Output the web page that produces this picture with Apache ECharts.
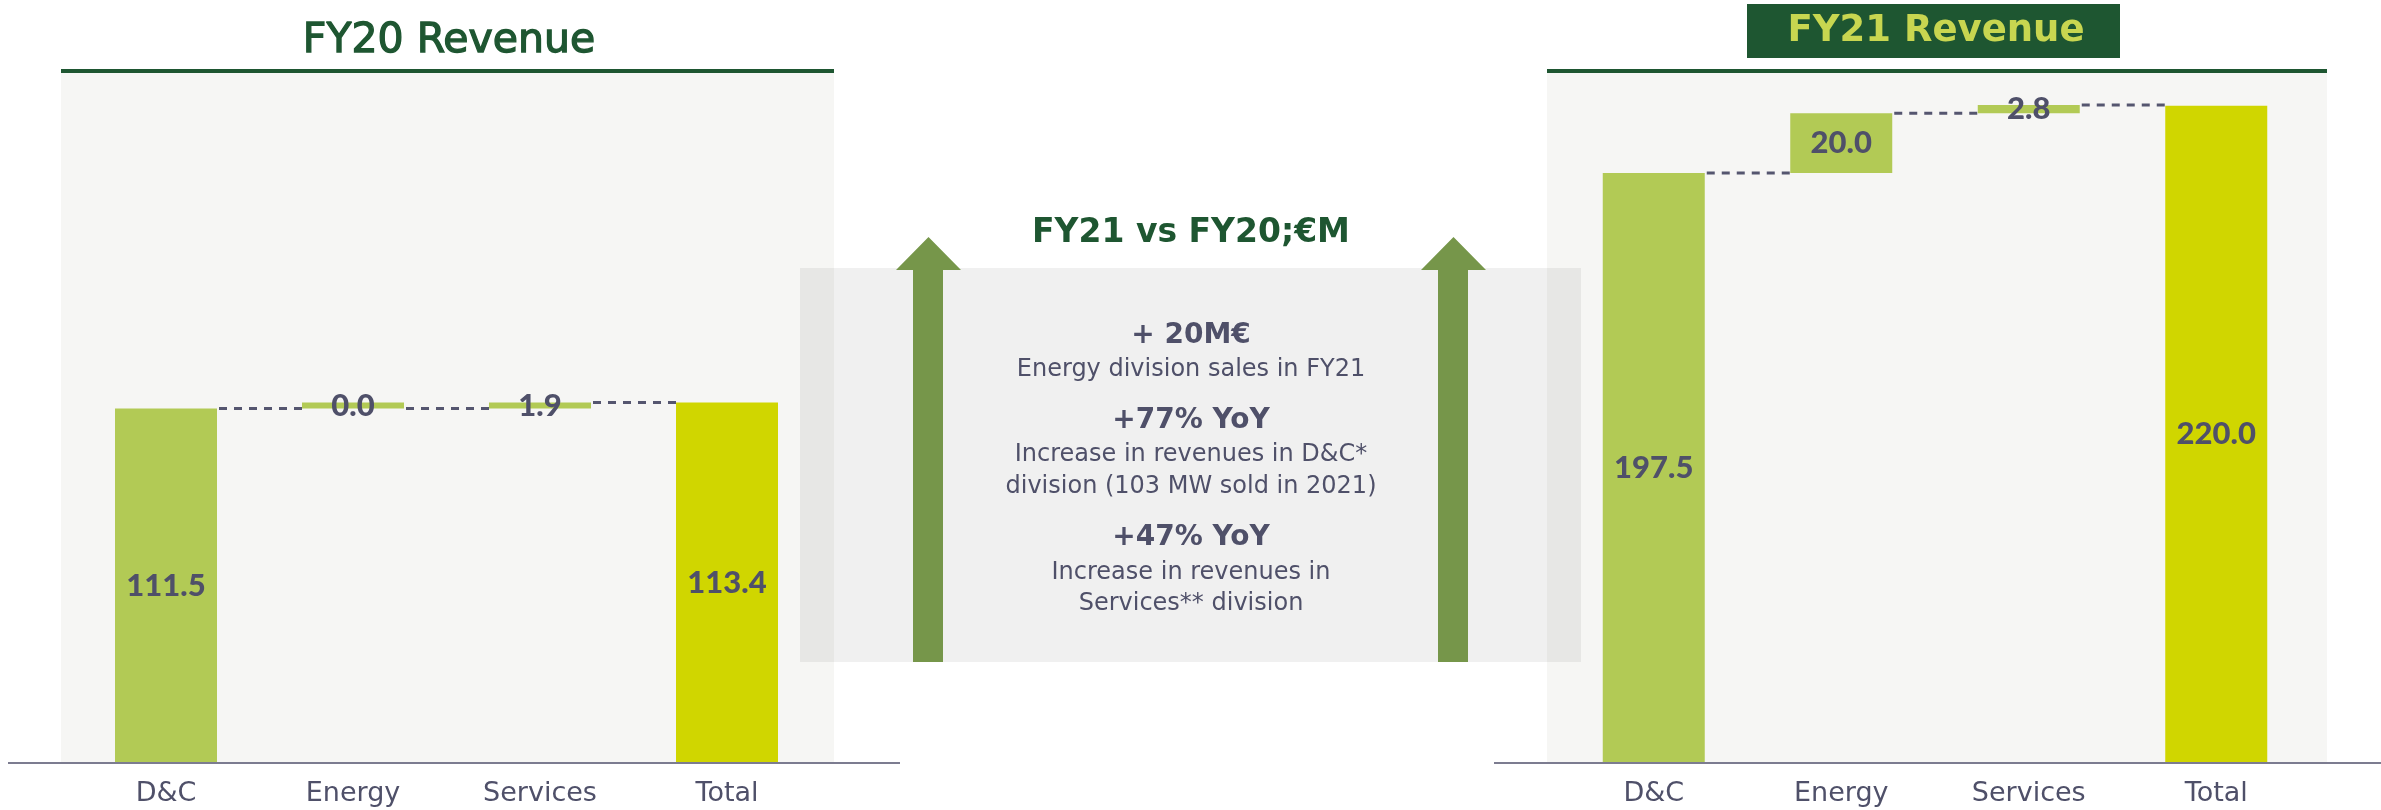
<!DOCTYPE html>
<html>
<head>
<meta charset="utf-8">
<script src="https://cdn.jsdelivr.net/npm/echarts@6/dist/echarts.min.js"></script>
<style>
  html, body { margin: 0; padding: 0; background: #fff; }
  #chart { width: 2381px; height: 810px; }
</style>
</head>
<body>
<div id="chart"></div>
<script>
var categories = ['D&C', 'Energy', 'Services', 'Total'];
var fy20Values = [111.5, 0.0, 1.9, 113.4];
var fy21Values = [197.5, 20.0, 2.8, 220.0];

var textColor = '#4f5069';
var darkGreen = '#1e5631';
var stepColor = '#b2ca55';
var totalColor = '#d0d600';
var textFont = '"DejaVu Sans", sans-serif';
var numFont = 'Lato, sans-serif';
var barW = 102;

// waterfall: transparent base + visible part, last category is the total
function waterfall(values) {
  var base = [], shown = [], levels = [];
  var run = 0;
  for (var i = 0; i < values.length; i++) {
    if (i === values.length - 1) {
      base.push(0);
      shown.push({ value: values[i], itemStyle: { color: totalColor } });
      levels.push(values[i]);
    } else {
      base.push(run);
      shown.push(values[i]);
      run += values[i];
      levels.push(run);
    }
  }
  return { base: base, shown: shown, levels: levels };
}

var w20 = waterfall(fy20Values);
var w21 = waterfall(fy21Values);

function seriesFor(w, idx) {
  return [{
    type: 'bar', xAxisIndex: idx, yAxisIndex: idx, stack: 's' + idx, z: 3,
    itemStyle: { color: 'transparent' }, barWidth: barW, silent: true,
    data: w.base
  }, {
    type: 'bar', xAxisIndex: idx, yAxisIndex: idx, stack: 's' + idx, z: 3,
    barWidth: barW, barMinHeight: 6,
    itemStyle: { color: stepColor },
    label: {
      show: true, position: 'inside', color: textColor,
      fontFamily: numFont, fontWeight: 900, fontSize: 31,
      formatter: function (p) { return Number(p.value).toFixed(1); }
    },
    data: w.shown
  }, {
    // dashed connectors between bar edges
    type: 'custom', xAxisIndex: idx, yAxisIndex: idx, z: 2, silent: true,
    data: w.levels.slice(0, -1).map(function (lv, i) { return [i, lv]; }),
    renderItem: function (params, api) {
      var i = api.value(0), lv = api.value(1);
      var p1 = api.coord([i, lv]);
      var p2 = api.coord([i + 1, lv]);
      return {
        type: 'line',
        shape: { x1: p1[0] + barW / 2 + 2, y1: p1[1], x2: p2[0] - barW / 2, y2: p2[1] },
        style: { stroke: '#55566f', lineWidth: 3, lineDash: [8, 7] }
      };
    }
  }];
}

var chart = echarts.init(document.getElementById('chart'));
var axisLabel = { color: textColor, fontSize: 27, fontFamily: textFont, margin: 17 };

function note(text, y, bold) {
  return {
    type: 'text', z: 5,
    style: {
      text: text, x: 1191, y: y, textAlign: 'center', textVerticalAlign: 'middle',
      fill: textColor, font: (bold ? 'bold 28px ' : '24px ') + textFont
    }
  };
}

var option = {
  animation: false,
  grid: [
    { left: 72.5, width: 748, top: 70, bottom: 47 },
    { left: 1560, width: 750, top: 70, bottom: 47 }
  ],
  xAxis: [
    { type: 'category', gridIndex: 0, data: categories, axisLine: { show: false }, axisTick: { show: false }, axisLabel: axisLabel },
    { type: 'category', gridIndex: 1, data: categories, axisLine: { show: false }, axisTick: { show: false }, axisLabel: axisLabel }
  ],
  yAxis: [
    { type: 'value', gridIndex: 0, min: 0, max: 218, show: false, splitLine: { show: false } },
    { type: 'value', gridIndex: 1, min: 0, max: 232, show: false, splitLine: { show: false } }
  ],
  series: seriesFor(w20, 0).concat(seriesFor(w21, 1)),
  graphic: [
    // panels
    { type: 'rect', z: -10, shape: { x: 61, y: 73, width: 773, height: 689 }, style: { fill: '#f6f6f4' } },
    { type: 'rect', z: -10, shape: { x: 1547, y: 73, width: 780, height: 689 }, style: { fill: '#f6f6f4' } },
    { type: 'rect', z: -9, shape: { x: 61, y: 69, width: 773, height: 4 }, style: { fill: darkGreen } },
    { type: 'rect', z: -9, shape: { x: 1547, y: 69, width: 780, height: 4 }, style: { fill: darkGreen } },
    { type: 'rect', z: -8, shape: { x: 800, y: 268, width: 781, height: 394 }, style: { fill: 'rgba(0,0,0,0.06)' } },
    // arrows
    { type: 'polygon', z: -7, shape: { points: [[913, 662], [913, 270], [896, 270], [928.5, 237], [961, 270], [943, 270], [943, 662]] }, style: { fill: '#76964a' } },
    { type: 'polygon', z: -7, shape: { points: [[1438, 662], [1438, 270], [1421, 270], [1453.5, 237], [1486, 270], [1468, 270], [1468, 662]] }, style: { fill: '#76964a' } },
    // baselines
    { type: 'line', z: 5, shape: { x1: 8, y1: 763, x2: 900, y2: 763 }, style: { stroke: '#7c7c90', lineWidth: 2 } },
    { type: 'line', z: 5, shape: { x1: 1494, y1: 763, x2: 2381, y2: 763 }, style: { stroke: '#7c7c90', lineWidth: 2 } },
    // titles
    { type: 'text', z: 5, style: { text: 'FY20 Revenue', x: 449, y: 41, textAlign: 'center', textVerticalAlign: 'middle', fill: darkGreen, stroke: darkGreen, lineWidth: 1.3, font: '41px ' + textFont } },
    { type: 'rect', z: 4, shape: { x: 1747, y: 4, width: 373, height: 54 }, style: { fill: darkGreen } },
    { type: 'text', z: 5, style: { text: 'FY21 Revenue', x: 1936, y: 31, textAlign: 'center', textVerticalAlign: 'middle', fill: '#c8d650', font: 'bold 37px ' + textFont } },
    { type: 'text', z: 5, style: { text: 'FY21 vs FY20;€M', x: 1191, y: 233, textAlign: 'center', textVerticalAlign: 'middle', fill: darkGreen, font: 'bold 33px ' + textFont } },
    // middle notes
    note('+ 20M€', 336, true),
    note('Energy division sales in FY21', 370, false),
    note('+77% YoY', 421, true),
    note('Increase in revenues in D&C*', 455, false),
    note('division (103 MW sold in 2021)', 487, false),
    note('+47% YoY', 538, true),
    note('Increase in revenues in', 573, false),
    note('Services** division', 604, false)
  ]
};
chart.setOption(option);
</script>
</body>
</html>
